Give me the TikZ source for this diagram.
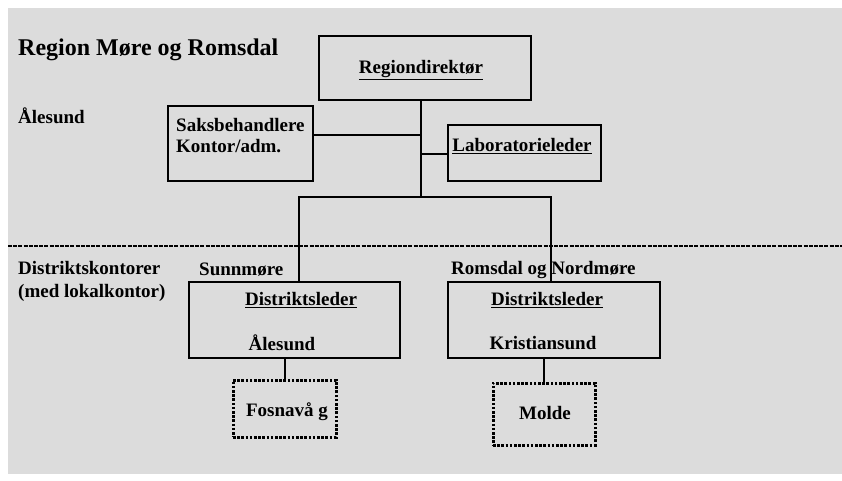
\documentclass[tikz,border=0pt]{standalone}
\usepackage{fontspec}
\setmainfont{Liberation Serif}
\definecolor{bggray}{RGB}{220,220,220}
\begin{document}
\begin{tikzpicture}[x=1pt,y=-1pt,
  box/.style={draw=black, line width=2.2pt, inner sep=0pt, rectangle},
  dotbox/.style={draw=black, line width=3pt, dash pattern=on 2.6pt off 1.6pt, inner sep=0pt, rectangle},
  conn/.style={draw=black, line width=2pt},
  txt/.style={inner sep=0pt, font=\bfseries\fontsize{19}{21}\selectfont},
  title/.style={inner sep=0pt, font=\bfseries\fontsize{24}{26}\selectfont},
  sep/.style={draw=black, line width=1.5pt, dash pattern=on 4pt off 1.2pt}]
\useasboundingbox (0,0) rectangle (842,480);
\fill[bggray] (8,8) rectangle (842,474);

% boxes
\node[box, minimum width=212pt, minimum height=64pt] (rd) at (425,68) {};
\node[box, minimum width=145pt, minimum height=75pt] (sak) at (240.5,143.5) {};
\node[box, minimum width=153pt, minimum height=56pt] (lab) at (524.5,153) {};
\node[box, minimum width=211pt, minimum height=76pt] (d1) at (294.5,320) {};
\node[box, minimum width=212pt, minimum height=76pt] (d2) at (554,320) {};
\node[dotbox, minimum width=103pt, minimum height=57pt] (fo) at (284.5,408.5) {};
\node[dotbox, minimum width=102pt, minimum height=62pt] (mo) at (544,414) {};

% separator
\coordinate (sl) at (8,246);
\coordinate (sr) at (842,246);
\draw[sep] (sl) -- (sr);

% junctions
\coordinate (j1) at (420.5,134.5);
\coordinate (j2) at (420.5,154);
\coordinate (j3) at (420.5,197);
\coordinate (bl) at (299,197);
\coordinate (br) at (551,197);

% connectors
\draw[conn] (rd.south -| j3) -- (j3);
\draw[conn] (sak.east |- j1) -- (j1);
\draw[conn] (j2) -- (lab.west |- j2);
\draw[conn, line cap=rect] (bl) -- (br);
\draw[conn] (bl) -- (d1.north -| bl);
\draw[conn] (br) -- (d2.north -| br);
\draw[conn] (fo.north |- d1.south) -- (fo.north);
\draw[conn] (mo.north |- d2.south) -- (mo.north);

% texts
\node[title, anchor=west] (t0) at (18,50) {Region Møre og Romsdal};
\node[txt, anchor=west] (t1) at (18,116) {Ålesund};
\node[txt] (t2) at (421,70) {\underline{Regiondirektør}};
\node[txt, anchor=west, align=left] (t3) at (176,135.5) {Saksbehandlere\\Kontor/adm.};
\node[txt] (t4) at (522,146) {\underline{Laboratorieleder}};
\node[txt, anchor=west, align=left, font=\bfseries\fontsize{19}{23}\selectfont] (t5) at (18,281.5) {Distriktskontorer\\(med lokalkontor)};
\node[txt, anchor=west] (t6) at (199,270) {Sunnmøre};
\node[txt, anchor=west] (t7) at (451,270) {Romsdal og Nordmøre};
\node[txt] (t8) at (301,300) {\underline{Distriktsleder}};
\node[txt] (t9) at (547,300) {\underline{Distriktsleder}};
\node[txt] (t10) at (282,343) {Ålesund};
\node[txt] (t11) at (543,343) {Kristiansund};
\node[txt] (t12) at (287,412) {Fosnavå g};
\node[txt] (t13) at (545,413) {Molde};
\end{tikzpicture}
\end{document}
